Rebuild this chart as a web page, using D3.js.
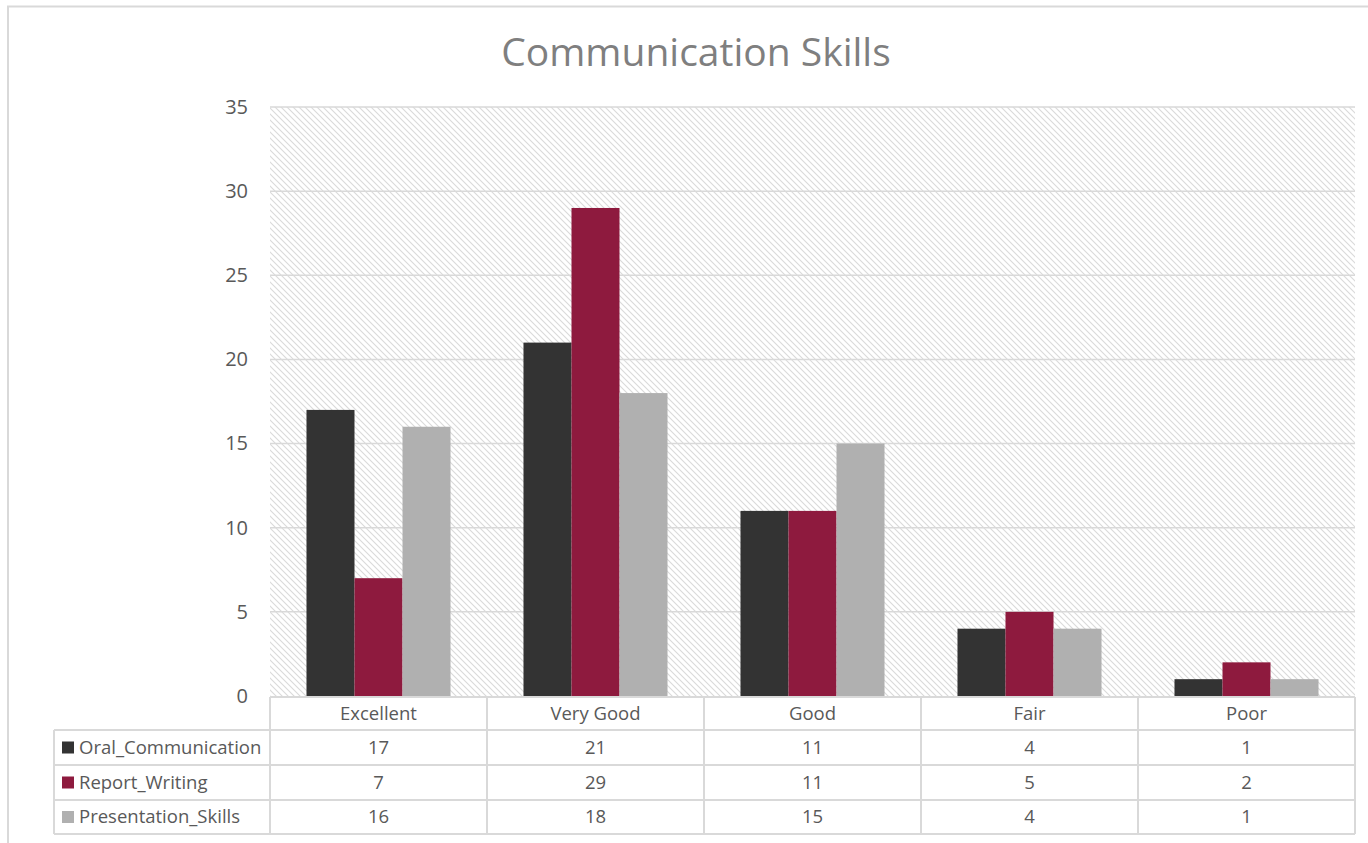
<!DOCTYPE html>
<html>
<head>
<meta charset="utf-8">
<script src="https://cdn.jsdelivr.net/npm/d3@7"></script>
<style>
html,body{margin:0;padding:0;background:#fff;}
svg{display:block;}
</style>
</head>
<body>
<svg id="chart" width="1368" height="843"></svg>
<script>
const categories = ["Excellent", "Very Good", "Good", "Fair", "Poor"];
const seriesNames = ["Oral_Communication", "Report_Writing", "Presentation_Skills"];
const oralValues = [17, 21, 11, 4, 1];
const reportValues = [7, 29, 11, 5, 2];
const presentationValues = [16, 18, 15, 4, 1];
const seriesColors = ["#333333", "#8e1a3e", "#b0b0b0"];
const yTicks = [0, 5, 10, 15, 20, 25, 30, 35];
const chartTitle = "Communication Skills";

(function () {
const series = [oralValues, reportValues, presentationValues];

const svg = d3.select("#chart");
const font = "'Open Sans', 'Noto Sans', sans-serif";
const pLeft = 270, pRight = 1355, pTop = 107, pBottom = 696;

// frame
svg.append("path").attr("d", "M8,843 V6.5 H1368").attr("fill", "none")
  .attr("stroke", "#d9d9d9").attr("stroke-width", 2);

// pattern
const defs = svg.append("defs");
const pat = defs.append("pattern").attr("id", "diag").attr("patternUnits", "userSpaceOnUse")
  .attr("width", 6).attr("height", 6);
pat.append("rect").attr("width", 6).attr("height", 6).attr("fill", "#fff");
pat.append("path").attr("d", "M-1,-1 L7,7 M-1,5 L1,7 M5,-1 L7,1").attr("stroke", "#dadada").attr("stroke-width", 1.1);

const x0 = d3.scaleBand().domain(categories).range([pLeft, pRight]).paddingInner(0).paddingOuter(0);
const x1 = d3.scaleBand().domain(seriesNames).range([0, x0.bandwidth()]).paddingInner(0).paddingOuter(0.76);
const y = d3.scaleLinear().domain([0, 35]).range([pBottom, pTop]);

svg.append("rect").attr("x", pLeft).attr("y", pTop).attr("width", pRight - pLeft).attr("height", pBottom - pTop)
  .attr("fill", "url(#diag)");

// gridlines
svg.append("g").selectAll("line").data(yTicks.filter(d => d > 0)).join("line")
  .attr("x1", pLeft).attr("x2", pRight).attr("y1", d => y(d)).attr("y2", d => y(d))
  .attr("stroke", "#d9d9d9").attr("stroke-width", 1.5);

// y axis labels
const yAxis = d3.axisLeft(y).tickValues(yTicks).tickSize(0).tickPadding(0);
const ya = svg.append("g").attr("transform", `translate(248,0)`).call(yAxis);
ya.select(".domain").remove();
ya.selectAll("text").attr("font-family", font).attr("font-size", 20).attr("fill", "#595959");

// bars
seriesNames.forEach((s, si) => {
  svg.append("g").selectAll("rect").data(series[si]).join("rect")
    .attr("x", (d, i) => x0(categories[i]) + x1(s))
    .attr("width", x1.bandwidth())
    .attr("y", d => y(d))
    .attr("height", d => y(0) - y(d))
    .attr("fill", seriesColors[si]);
});

// title
svg.append("text").attr("x", 696).attr("y", 66).attr("text-anchor", "middle")
  .attr("font-family", font).attr("font-size", 39).attr("fill", "#7f7f7f").text(chartTitle);

// data table
const tStroke = "#d9d9d9";
const rowY = [697, 730, 765, 800, 834];
const tLeft = 54;
const tbl = svg.append("g");
tbl.append("line").attr("x1", pLeft).attr("x2", pRight).attr("y1", rowY[0]).attr("y2", rowY[0]).attr("stroke", tStroke).attr("stroke-width", 2);
rowY.slice(1).forEach(yy => {
  tbl.append("line").attr("x1", tLeft).attr("x2", pRight).attr("y1", yy).attr("y2", yy).attr("stroke", tStroke).attr("stroke-width", 2);
});
tbl.append("line").attr("x1", tLeft).attr("x2", tLeft).attr("y1", rowY[1]).attr("y2", rowY[4]).attr("stroke", tStroke).attr("stroke-width", 2);
categories.forEach(c => {
  tbl.append("line").attr("x1", x0(c)).attr("x2", x0(c)).attr("y1", rowY[0]).attr("y2", rowY[4]).attr("stroke", tStroke).attr("stroke-width", 2);
});
tbl.append("line").attr("x1", pRight).attr("x2", pRight).attr("y1", rowY[0]).attr("y2", rowY[4]).attr("stroke", tStroke).attr("stroke-width", 2);

tbl.selectAll("text.hdr").data(categories).join("text").attr("class", "hdr")
  .attr("x", d => x0(d) + x0.bandwidth() / 2).attr("y", (rowY[0] + rowY[1]) / 2).attr("dy", "0.35em")
  .attr("text-anchor", "middle").attr("font-family", font).attr("font-size", 18.5).attr("fill", "#595959").text(d => d);

seriesNames.forEach((s, si) => {
  const cy = (rowY[si + 1] + rowY[si + 2]) / 2;
  tbl.append("rect").attr("x", 62).attr("y", cy - 6).attr("width", 12).attr("height", 12).attr("fill", seriesColors[si]);
  tbl.append("text").attr("x", 79).attr("y", cy).attr("dy", "0.35em").attr("font-family", font)
    .attr("font-size", 18.5).attr("fill", "#595959").text(s);
  tbl.append("g").selectAll("text").data(series[si]).join("text")
    .attr("x", (d, i) => x0(categories[i]) + x0.bandwidth() / 2).attr("y", cy).attr("dy", "0.35em")
    .attr("text-anchor", "middle").attr("font-family", font).attr("font-size", 18.5).attr("fill", "#595959").text(d => d);
});
})();
</script>
</body>
</html>
